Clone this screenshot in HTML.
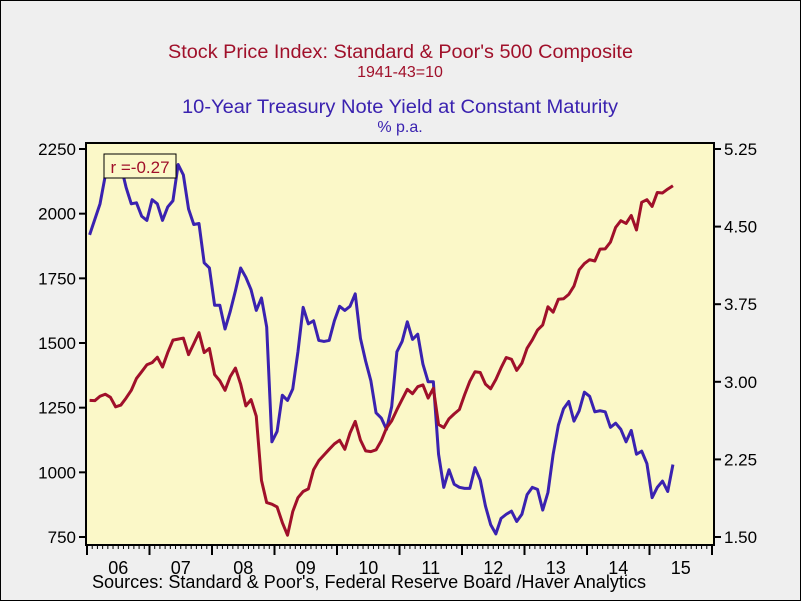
<!DOCTYPE html>
<html><head><meta charset="utf-8"><style>
body{margin:0;background:#efefef;}
svg{display:block;font-family:"Liberation Sans",Arial,sans-serif;}
</style></head><body>
<svg width="801" height="601" viewBox="0 0 801 601">
<rect x="0" y="0" width="801" height="601" fill="#efefef"/>
<rect x="0.5" y="0.5" width="800" height="600" fill="none" stroke="#000"/>
<text x="168" y="58" textLength="465" lengthAdjust="spacingAndGlyphs" font-size="19" fill="#a0102a">Stock Price Index: Standard &amp; Poor's 500 Composite</text>
<text x="400" y="77" text-anchor="middle" font-size="16" fill="#a0102a">1941-43=10</text>
<text x="182" y="113" textLength="436" lengthAdjust="spacingAndGlyphs" font-size="19" fill="#3a22b0">10-Year Treasury Note Yield at Constant Maturity</text>
<text x="400" y="132" text-anchor="middle" font-size="16" fill="#3a22b0">% p.a.</text>
<rect x="86" y="143" width="628" height="402" fill="#fbf8c8"/>
<g id="marks"></g>
<rect x="86" y="143" width="628" height="402" fill="none" stroke="#000" stroke-width="2"/>
<g id="axes"></g>
<rect x="104" y="154" width="72" height="24" fill="#fbf8c8" stroke="#000"/>
<text x="140" y="173" text-anchor="middle" font-size="17" fill="#a0102a">r =-0.27</text>
<text x="92" y="588" textLength="554" lengthAdjust="spacingAndGlyphs" font-size="18" fill="#000">Sources:  Standard &amp; Poor's, Federal Reserve Board /Haver Analytics</text>
</svg>
<script>
const spx=[1278,1277,1294,1302,1290,1253,1260,1287,1317,1363,1389,1416,
1424,1445,1407,1463,1511,1515,1519,1455,1497,1540,1463,1479,
1378,1354,1317,1370,1403,1341,1257,1281,1217,969,883,877,
866,806,757,848,902,926,936,1010,1045,1067,1089,1110,
1124,1089,1152,1197,1125,1083,1080,1087,1122,1171,1199,1242,
1282,1321,1304,1331,1338,1287,1325,1185,1173,1207,1226,1243,
1300,1352,1389,1386,1341,1323,1359,1404,1444,1437,1394,1422,
1480,1512,1550,1570,1640,1619,1669,1671,1688,1720,1783,1807,
1822,1817,1863,1864,1890,1947,1973,1962,1993,1937,2044,2054,
2028,2082,2080,2095,2108];
const yields=[4.42,4.57,4.72,4.99,5.11,5.11,5.09,4.88,4.72,4.73,4.60,4.56,
4.76,4.72,4.56,4.69,4.75,5.10,5.00,4.67,4.52,4.53,4.15,4.10,
3.74,3.74,3.51,3.68,3.88,4.10,4.01,3.89,3.69,3.81,3.53,2.42,
2.52,2.87,2.82,2.93,3.29,3.72,3.56,3.59,3.40,3.39,3.40,3.59,
3.73,3.69,3.73,3.85,3.42,3.20,3.01,2.70,2.65,2.54,2.76,3.29,
3.39,3.58,3.41,3.46,3.17,3.00,3.00,2.30,1.98,2.15,2.01,1.98,
1.97,1.97,2.17,2.05,1.80,1.62,1.53,1.68,1.72,1.75,1.65,1.72,
1.91,1.98,1.96,1.76,1.93,2.30,2.58,2.74,2.81,2.62,2.72,2.90,
2.86,2.71,2.72,2.71,2.56,2.60,2.54,2.42,2.53,2.30,2.33,2.21,
1.88,1.98,2.04,1.94,2.20];
const leftTicks=[750,1000,1250,1500,1750,2000,2250];
const rightTicks=["1.50","2.25","3.00","3.75","4.50","5.25"];
const yearLabels=["06","07","08","09","10","11","12","13","14","15"];
const NS="http://www.w3.org/2000/svg";
const X0=87,PX_YEAR=62.5,TOP=149,BOT=537;
const xm=i=>X0+(i+0.5)*PX_YEAR/12;
const yl=v=>BOT-(v-750)/1500*(BOT-TOP);
const yr=v=>BOT-(v-1.5)/3.75*(BOT-TOP);
function el(t,a,p){const e=document.createElementNS(NS,t);for(const k in a)e.setAttribute(k,a[k]);p.appendChild(e);return e;}
const marks=document.getElementById('marks'),axes=document.getElementById('axes');
const cp=el('clipPath',{id:'cp'},marks);el('rect',{x:86,y:143,width:628,height:402},cp);
const pl=el('polyline',{points:yields.map((v,i)=>xm(i)+','+yr(v)).join(' '),fill:'none',stroke:'#3a22b0','stroke-width':3,'stroke-linejoin':'round','clip-path':'url(#cp)'},marks);


const ps=el('polyline',{points:spx.map((v,i)=>xm(i)+','+yl(v)).join(' '),fill:'none',stroke:'#a0102a','stroke-width':3,'stroke-linejoin':'round','clip-path':'url(#cp)'},marks);


leftTicks.forEach(v=>{const y=yl(v);
 el('line',{x1:79,x2:86,y1:y,y2:y,stroke:'#000','stroke-width':2},axes);
 const t=el('text',{x:76,y:y+6,'text-anchor':'end','font-size':17},axes);t.textContent=v;
 
 });
rightTicks.forEach(v=>{const y=yr(+v);
 el('line',{x1:714,x2:721,y1:y,y2:y,stroke:'#000','stroke-width':2},axes);
 const t=el('text',{x:724,y:y+6,'font-size':17},axes);t.textContent=v;
 
 });
for(let m=0;m<=120;m++){const x=X0+m*PX_YEAR/12;
 el('line',{x1:x,x2:x,y1:545,y2:m%12==0?555:549,stroke:'#000','stroke-width':m%12==0?2:1},axes);}
yearLabels.forEach((s,i)=>{const t=el('text',{x:X0+(i+0.5)*PX_YEAR,y:574,'text-anchor':'middle','font-size':18},axes);t.textContent=s;
 
 });
</script>
</body></html>
